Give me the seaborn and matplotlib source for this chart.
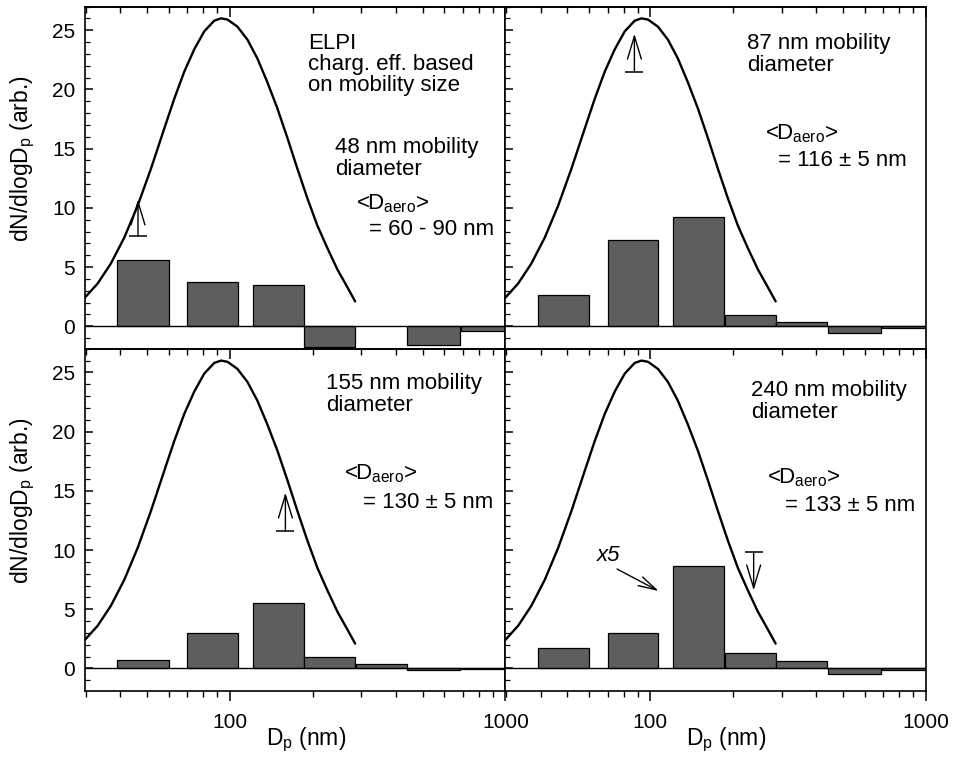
import numpy as np
import matplotlib
matplotlib.use("Agg")
import matplotlib.pyplot as plt
import seaborn as sns
from matplotlib.ticker import MultipleLocator, LogLocator, NullFormatter, FixedLocator
from matplotlib.patches import ArrowStyle

# ---------------- data ----------------
bin_lo = [39, 70, 121, 186, 286, 440, 690]
bin_hi = [60, 107, 185, 285, 438, 685, 1000]

vals_48 = [5.63, 3.75, 3.52, -1.71, np.nan, -1.57, -0.42]
vals_87 = [2.68, 7.27, 9.24, 0.93, 0.34, -0.57, -0.15]
vals_155 = [0.70, 2.96, 5.49, 0.93, 0.34, -0.12, -0.06]
vals_240 = [1.75, 3.01, 8.68, 1.27, 0.65, -0.48, -0.10]

curve_d = [29.7, 33.1, 37.0, 41.4, 46.3, 51.7, 57.8, 62.8, 68.3, 74.3, 80.7, 87.7,
           92.8, 98.0, 106.5, 115.8, 125.9, 136.8, 148.7, 161.7, 175.8, 191.1,
           207.7, 225.8, 245.5, 266.8, 284.8]
curve_y = [2.39, 3.6, 5.3, 7.5, 10.2, 13.3, 16.7, 19.2, 21.5, 23.4, 24.9, 25.8,
           26.0, 25.9, 25.3, 24.2, 22.6, 20.6, 18.4, 15.9, 13.3, 10.8,
           8.5, 6.6, 4.8, 3.3, 2.1]

arrow_x = [46.4, 87.5, 159, 237]
arrow_base = [7.6, 21.5, 11.6, 9.8]
arrow_tip = [10.7, 24.7, 14.85, 6.6]

size_labels = ["48 nm mobility\ndiameter", "87 nm mobility\ndiameter",
               "155 nm mobility\ndiameter", "240 nm mobility\ndiameter"]
daero_values = ["= 60 - 90 nm", "= 116 \u00b1 5 nm", "= 130 \u00b1 5 nm", "= 133 \u00b1 5 nm"]
elpi_label = "ELPI\ncharg. eff. based\non mobility size"

x5_text = "x5"
x5_text_pos = (70.4, 9.5)
x5_arrow_from = (75.7, 8.4)
x5_arrow_to = (107.2, 6.54)

xtick_vals = [100, 1000]
xtick_labels = ["100", "1000"]
ytick_vals = [0, 5, 10, 15, 20, 25]

# ---------------- style ----------------
sns.set_theme(style="ticks", rc={
    "axes.edgecolor": "black", "xtick.color": "black", "ytick.color": "black",
    "text.color": "black", "axes.labelcolor": "black", "axes.linewidth": 1.2,
})
plt.rcParams["font.family"] = ["Liberation Sans", "DejaVu Sans"]
plt.rcParams["mathtext.fontset"] = "custom"
plt.rcParams["mathtext.rm"] = "Liberation Sans"
plt.rcParams["mathtext.it"] = "Liberation Sans:italic"
plt.rcParams["mathtext.default"] = "regular"

bar_color = "#5e5e5e"
TXT = 16

fig, axes = plt.subplots(2, 2, figsize=(9.55, 7.58), dpi=100, sharex=True, sharey=True)
fig.subplots_adjust(left=0.089, right=0.9696, top=0.9914, bottom=0.0884,
                    wspace=0, hspace=0)

panels = [vals_48, vals_87, vals_155, vals_240]
text_pos = [
    dict(size=(0.595, 0.618), daero=(0.644, 0.458), eq=(0.676, 0.38)),
    dict(size=(0.575, 0.923), daero=(0.618, 0.662), eq=(0.649, 0.58)),
    dict(size=(0.573, 0.93), daero=(0.616, 0.667), eq=(0.661, 0.582)),
    dict(size=(0.583, 0.909), daero=(0.621, 0.655), eq=(0.664, 0.573)),
]

for i, ax in enumerate(axes.flat):
    ax.set_xscale("log")
    vals = panels[i]
    for lo, hi, v in zip(bin_lo, bin_hi, vals):
        if np.isnan(v):
            continue
        ax.bar(lo, v, width=hi - lo, align="edge", color=bar_color,
               edgecolor="black", linewidth=0.9, zorder=2)
    ax.axhline(0, color="black", lw=1.0, zorder=3)
    sns.lineplot(x=curve_d, y=curve_y, ax=ax, color="black", lw=1.7,
                 estimator=None, sort=False, zorder=4)

    # arrow with T base
    ax.annotate("", xy=(arrow_x[i], arrow_tip[i]), xytext=(arrow_x[i], arrow_base[i]),
                arrowprops=dict(arrowstyle=ArrowStyle("->", head_length=1.65, head_width=0.5),
                                mutation_scale=10, color="black", lw=1.0,
                                shrinkA=0, shrinkB=0), zorder=5)
    ax.plot([arrow_x[i]], [arrow_base[i]], marker="_", ms=13, mew=1.1, color="black", zorder=5)

    tp = text_pos[i]
    ax.text(*tp["size"], size_labels[i], transform=ax.transAxes, fontsize=TXT,
            ha="left", va="top", linespacing=1.05)
    ax.text(*tp["daero"], r"<D$_{aero}$>", transform=ax.transAxes, fontsize=TXT,
            ha="left", va="top")
    ax.text(*tp["eq"], daero_values[i], transform=ax.transAxes, fontsize=TXT,
            ha="left", va="top")

    ax.set_xlim(29.8, 1000)
    ax.set_ylim(-1.9, 27.0)
    ax.xaxis.set_major_locator(FixedLocator(xtick_vals))
    ax.set_xticks(xtick_vals, labels=xtick_labels)
    ax.xaxis.set_minor_locator(LogLocator(base=10, subs=np.arange(2, 10)))
    ax.xaxis.set_minor_formatter(NullFormatter())
    ax.set_yticks(ytick_vals)
    ax.yaxis.set_minor_locator(MultipleLocator(1))

    ax.tick_params(axis="x", which="both", direction="out", bottom=True, top=False,
                   labelsize=15, pad=9)
    ax.tick_params(axis="x", which="major", length=7, width=1.1)
    ax.tick_params(axis="x", which="minor", length=4.5, width=1.0)
    ax.tick_params(axis="y", which="both", direction="in", left=True, right=False,
                   labelsize=15, pad=7)
    ax.tick_params(axis="y", which="major", length=6, width=1.1)
    ax.tick_params(axis="y", which="minor", length=3.5, width=0.9)

    sec = ax.secondary_xaxis("top")
    sec.xaxis.set_major_locator(FixedLocator(xtick_vals))
    sec.xaxis.set_minor_locator(LogLocator(base=10, subs=np.arange(2, 10)))
    sec.xaxis.set_major_formatter(NullFormatter())
    sec.xaxis.set_minor_formatter(NullFormatter())
    sec.tick_params(axis="x", which="both", direction="in", labeltop=False)
    sec.tick_params(axis="x", which="major", length=7, width=1.1)
    sec.tick_params(axis="x", which="minor", length=4.5, width=1.0)

    ax.set_xlabel("")
    ax.set_ylabel("")
    for s in ax.spines.values():
        s.set_linewidth(1.2)

# ELPI note
axes[0, 0].text(0.53, 0.923, elpi_label, transform=axes[0, 0].transAxes, fontsize=TXT,
                ha="left", va="top", linespacing=1.0)

# x5 annotation
axb = axes[1, 1]
axb.text(*x5_text_pos, x5_text, fontsize=TXT, style="italic", ha="center", va="center")
axb.annotate("", xy=x5_arrow_to, xytext=x5_arrow_from,
             arrowprops=dict(arrowstyle=ArrowStyle("->", head_length=1.3, head_width=0.35),
                             mutation_scale=10, color="black", lw=1.0,
                             shrinkA=0, shrinkB=0))

for r in range(2):
    axes[r, 0].set_ylabel("dN/dlogD$_p$ (arb.)", fontsize=16.5)
    axes[r, 0].yaxis.set_label_coords(-0.115, 0.555)
for c in range(2):
    axes[1, c].set_xlabel("D$_p$ (nm)", fontsize=16.5)
    axes[1, c].xaxis.set_label_coords(0.525, -0.1)

fig.savefig("out.png", dpi=100)
